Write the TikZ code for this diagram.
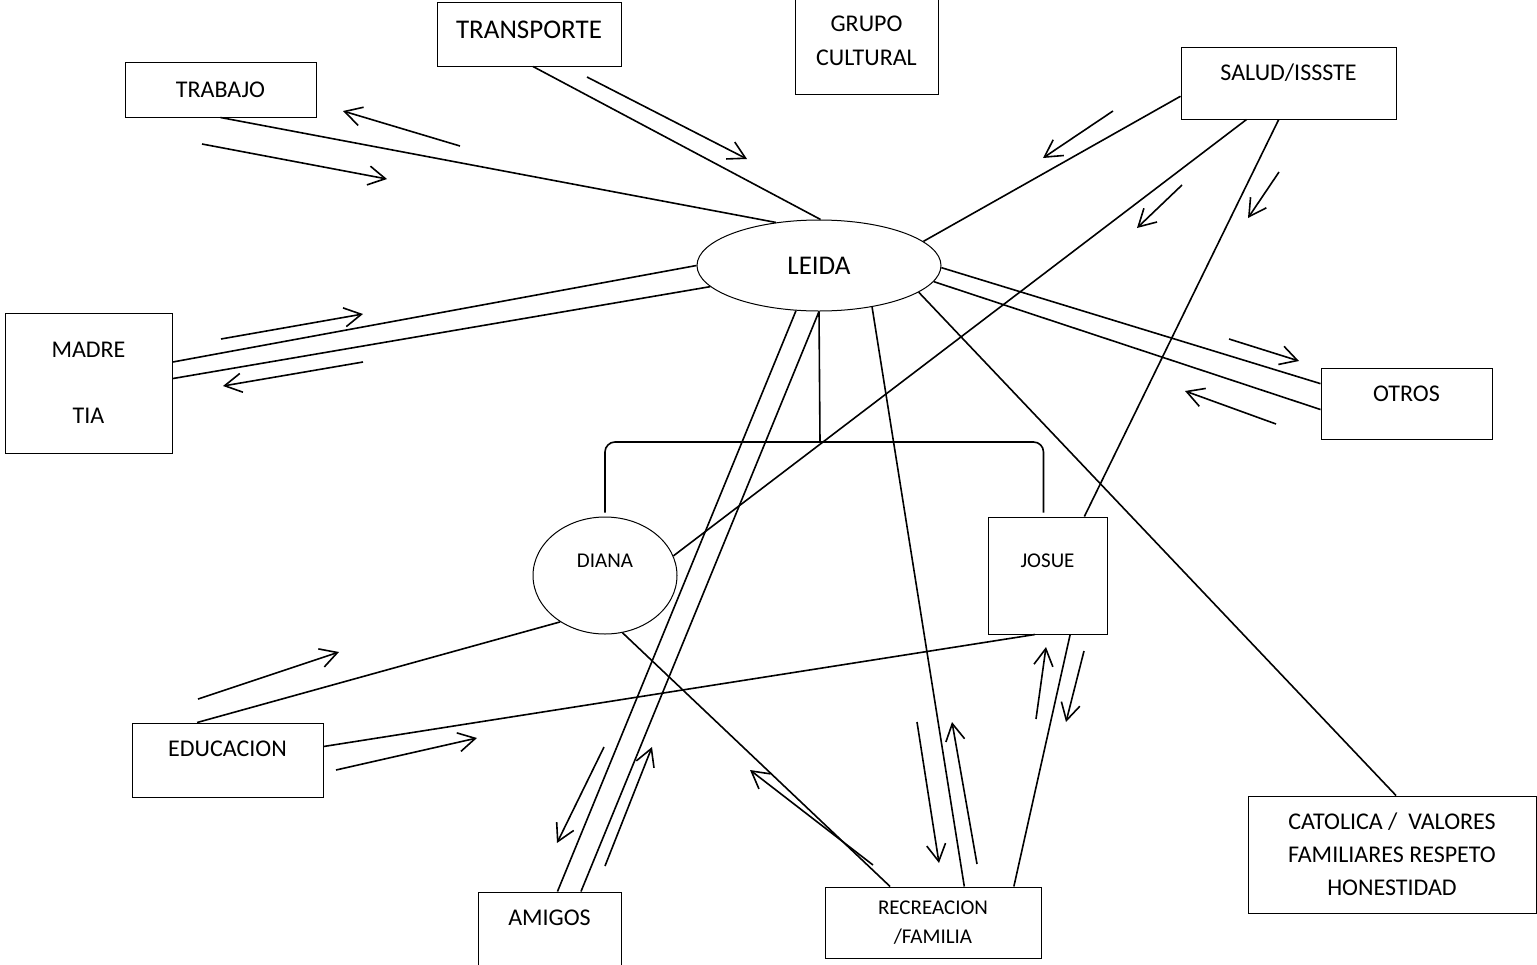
\documentclass[tikz,border=0pt]{standalone}
\usepackage{fontspec}
\setmainfont{Carlito}
\usepackage{tikz}
\usetikzlibrary{arrows.meta,shapes.geometric,calc}

\tikzset{
  box/.style={draw, rectangle, line width=0.5pt, inner sep=0pt, align=center},
  oval/.style={draw, ellipse, line width=0.5pt, inner sep=0pt, align=center},
  bigtext/.style={font=\fontsize{13.5}{16}\selectfont},
  midtext/.style={font=\fontsize{12}{14.5}\selectfont},
  smalltext/.style={font=\fontsize{10.5}{14.5}\selectfont},
  lift/.style={text depth=#1},
}

\begin{document}
\begin{tikzpicture}[x=0.5pt,y=-0.5pt,>={Straight Barb[length=8.5pt,width=9.5pt]},line width=0.8pt]
		\useasboundingbox (0,0) rectangle (1537,964);
		% nodos
		\node[oval,bigtext,minimum width=122pt,minimum height=45.5pt] (leida) at (819,265.5) {LEIDA};
		\node[box,bigtext,lift=4pt,minimum width=92pt,minimum height=32pt] (transporte) at (529,34) {TRANSPORTE};
		\node[box,midtext,font=\fontsize{12}{17}\selectfont,minimum width=71.5pt,minimum height=53pt] (grupo) at (866.5,41) {GRUPO\\CULTURAL};
		\node[box,midtext,minimum width=95.5pt,minimum height=27.5pt] (trabajo) at (220.5,89.5) {TRABAJO};
		\node[box,midtext,lift=11pt,minimum width=107.5pt,minimum height=36pt] (salud) at (1288.5,83) {SALUD/ISSSTE};
		\node[box,midtext,minimum width=83.5pt,minimum height=70pt] (madre) at (88.5,383) {MADRE\\[18.5pt]TIA};
		\node[box,midtext,lift=10pt,minimum width=85.5pt,minimum height=35.5pt] (otros) at (1406.5,403.5) {OTROS};
		\node[oval,smalltext,lift=14.5pt,minimum width=72pt,minimum height=58.5pt] (diana) at (605,575.5) {DIANA};
		\node[box,smalltext,lift=14.5pt,minimum width=59.5pt,minimum height=58.5pt] (josue) at (1047.5,575.5) {JOSUE};
		\node[box,midtext,lift=11pt,minimum width=95.5pt,minimum height=37pt] (educacion) at (227.5,760) {EDUCACION};
		\node[box,midtext,lift=11pt,minimum width=71.5pt,minimum height=37pt] (amigos) at (549.5,929) {AMIGOS};
		\node[box,smalltext,minimum width=108pt,minimum height=35.5pt] (recreacion) at (933,922.5) {\raisebox{-2pt}{RECREACION}\\\raisebox{-2pt}{/FAMILIA}};
		\node[box,font=\fontsize{12}{16.5}\selectfont,minimum width=144pt,minimum height=58.5pt] (catolica) at (1392,854.5) {CATOLICA /\ \ VALORES\\FAMILIARES RESPETO\\HONESTIDAD};
		\coordinate (fork) at (820,442);

		% lineas
		\draw (trabajo.south) -- (leida.135);
		\draw ([xshift=2pt]transporte.south) -- (leida.88);
		\draw (salud.187) -- (leida.13);
		\draw (salud.221) -- (diana.16);
		\draw (salud.255) -- (josue.58);
		\draw (leida.-1) -- (otros.167);
		\draw (leida.-8) -- (otros.184);
		\draw (leida.180) -- (madre.14);
		\draw (leida.191) -- (madre.3);
		\draw (leida.-15) -- ([xshift=2pt]catolica.north);
		\draw (leida.243) -- (amigos.78);
		\draw (leida.south) -- (amigos.50);
		\draw (leida.-38) -- (recreacion.49);
		\draw (leida.south) -- (fork);
		\draw[rounded corners=5pt] ([yshift=2pt]diana.north) |- (fork) -| ([xshift=-2pt,yshift=2pt]josue.north);
		\draw (diana.226) -- (educacion.129);
		\draw (josue.258) -- (educacion.8);
		\draw (diana.287) -- (recreacion.140);
		\draw (josue.291) -- (recreacion.24);

		% flechas
		\draw[->] (460,146) -- (343,111);
		\draw[->] (202,144) -- (387,179);
		\draw[->] (587,77) -- (747,159);
		\draw[->] (1113,111) -- (1043,158);
		\draw[->] (1182,185) -- (1137,228);
		\draw[->] (1279,172) -- (1248,218);
		\draw[->] (1229,339) -- (1299,361);
		\draw[->] (1276,424) -- (1185,391);
		\draw[->] (221,339) -- (363,314);
		\draw[->] (363,362) -- (223,386);
		\draw[->] (198,699) -- (339,652);
		\draw[->] (336,770) -- (477,738);
		\draw[->] (604,747) -- (557,843);
		\draw[->] (605,866) -- (652,747);
		\draw[->] (873,865) -- (750,770);
		\draw[->] (917,722) -- (939,863);
		\draw[->] (977,864) -- (952,722);
		\draw[->] (1036,719) -- (1046,647);
		\draw[->] (1084,651) -- (1066,722);
\end{tikzpicture}
\end{document}
